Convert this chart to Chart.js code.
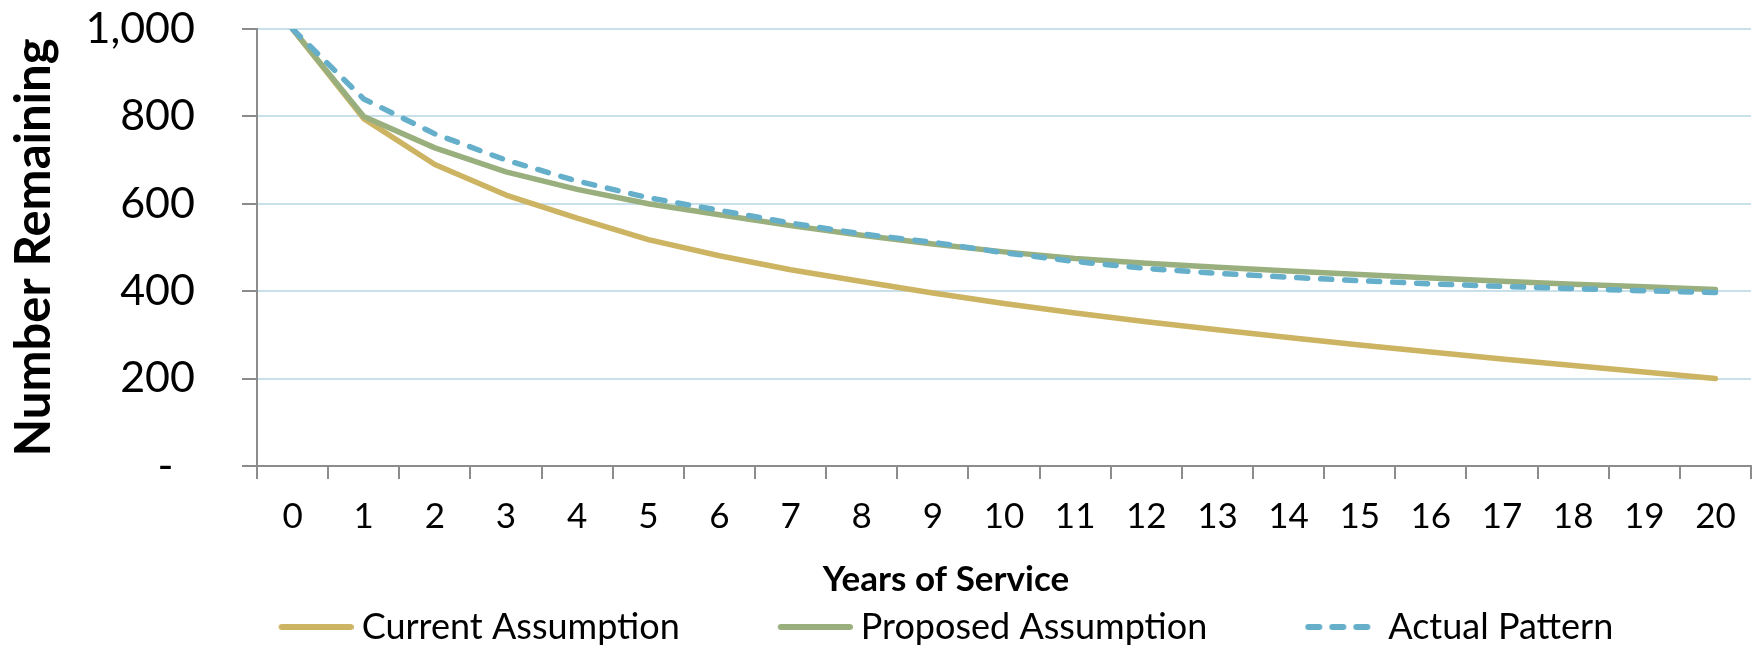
<!DOCTYPE html>
<html>
<head>
<meta charset="utf-8">
<title>Number Remaining by Years of Service</title>
<script src="https://cdn.jsdelivr.net/npm/chart.js@4.4.1/dist/chart.umd.min.js"></script>
<style>
  html, body { margin: 0; padding: 0; background: #ffffff; }
  #wrap { width: 1760px; height: 650px; position: relative; }
</style>
</head>
<body>
<div id="wrap"><canvas id="chart"></canvas></div>
<script>
// Years of service (categories)
const years = ['0', '1', '2', '3', '4', '5', '6', '7', '8', '9', '10',
               '11', '12', '13', '14', '15', '16', '17', '18', '19', '20'];

// Number remaining out of 1,000 starting members
const currentAssumption  = [1000, 795, 690, 620, 567, 518, 481, 449, 422, 396, 372,
                            350, 330, 312, 294, 277, 261, 245, 230, 215, 200];
const proposedAssumption = [1000, 800, 728, 673, 633, 600, 575, 550, 528, 508, 490,
                            475, 464, 455, 446, 438, 430, 423, 416, 410, 404];
const actualPattern      = [1000, 840, 760, 700, 652, 614, 585, 556, 531, 512, 488,
                            468, 452, 441, 432, 424, 417, 411, 406, 401, 397];

// Value-axis tick values
const yTickValues = [0, 200, 400, 600, 800, 1000];

const seriesNames = ['Current Assumption', 'Proposed Assumption', 'Actual Pattern'];

const GOLD  = '#CCB462';
const GREEN = '#9AAF7E';
const BLUE  = '#66AFCB';
const GRID  = '#C7E0EA';
const AXIS  = '#8C8C8C';
const DASH  = [11, 13];
const LINE_W = 5.5;

// Legend swatch: a short stroke at the right end of a wider transparent strip
const LEGEND_PAD = 3;
const SWATCH_BOX = 163 - LEGEND_PAD;
function legendSwatch(color, dash) {
  const c = document.createElement('canvas');
  c.width = SWATCH_BOX + 20;
  c.height = 10;
  const g = c.getContext('2d');
  g.strokeStyle = color;
  g.lineWidth = 6;
  g.lineCap = 'round';
  g.setLineDash(dash);
  g.beginPath();
  g.moveTo(c.width - 75 + 3, 5);
  g.lineTo(c.width - 3, 5);
  g.stroke();
  return c;
}

Chart.defaults.font.family = "Lato, 'Open Sans', sans-serif";
Chart.defaults.color = '#000000';

// Keeps the bottom title and legend centred under the plot like the source layout
const bottomBlocks = {
  id: 'bottomBlocks',
  afterLayout(chart) {
    const t = chart.titleBlock;
    if (t) { t.left = 141; t.right = 1751; t.width = t.right - t.left; }
    const lg = chart.legend;
    if (lg) {
      lg.left = 1957 - SWATCH_BOX - 1760;
      lg.right = 1760;
      lg.width = lg.right - lg.left;
      const lab = lg.options.labels;
      const size = lab.font.size;
      const dy = 627 - (lg.top + lab.padding + size / 2);
      lg.top += dy;
      lg.bottom += dy;
    }
  }
};

new Chart(document.getElementById('chart'), {
  type: 'line',
  data: {
    labels: years,
    datasets: [
      {
        label: seriesNames[0],
        data: currentAssumption,
        borderColor: GOLD,
        backgroundColor: GOLD,
        borderWidth: LINE_W,
        pointStyle: legendSwatch(GOLD, []),
        order: 3
      },
      {
        label: seriesNames[1],
        data: proposedAssumption,
        borderColor: GREEN,
        backgroundColor: GREEN,
        borderWidth: LINE_W,
        pointStyle: legendSwatch(GREEN, []),
        order: 2
      },
      {
        label: seriesNames[2],
        data: actualPattern,
        borderColor: BLUE,
        backgroundColor: BLUE,
        borderWidth: LINE_W,
        borderDash: DASH,
        pointStyle: legendSwatch(BLUE, DASH),
        order: 1
      }
    ]
  },
  options: {
    responsive: true,
    maintainAspectRatio: false,
    animation: false,
    events: [],
    layout: { padding: { top: 29, right: 9, bottom: 0, left: 0 } },
    elements: {
      line: { tension: 0, borderCapStyle: 'round', borderJoinStyle: 'round', fill: false },
      point: { radius: 0, hoverRadius: 0 }
    },
    scales: {
      x: {
        type: 'category',
        offset: true,
        ticks: { font: { size: 35 }, color: '#000', padding: 17, maxRotation: 0, autoSkip: false },
        grid: { offset: true, drawOnChartArea: false, tickColor: AXIS, tickLength: 13, tickWidth: 2, lineWidth: 2 },
        border: { color: AXIS, width: 2 }
      },
      y: {
        min: 0,
        max: 1000,
        afterBuildTicks(scale) { scale.ticks = yTickValues.map(v => ({ value: v })); },
        afterFit(scale) {
          scale.width = 257;
          scale.paddingTop = 0;
          scale.paddingBottom = 0;
        },
        ticks: {
          font: { size: 43 },
          color: '#000',
          padding: 47,
          callback: v => (v === 0 ? '-\u2002' : v.toLocaleString('en-US'))
        },
        grid: {
          color: ctx => (ctx.tick && ctx.tick.value === 0 ? 'rgba(0,0,0,0)' : GRID),
          lineWidth: 2,
          tickColor: AXIS,
          tickLength: 15,
          tickWidth: 2
        },
        border: { color: AXIS, width: 2 },
        title: {
          display: true,
          text: 'Number Remaining',
          font: { size: 49, weight: 'bold' },
          color: '#000',
          padding: { top: 5, bottom: 0 }
        }
      }
    },
    plugins: {
      tooltip: { enabled: false },
      title: {
        display: true,
        position: 'bottom',
        text: 'Years of Service',
        font: { size: 35, weight: 'bold' },
        color: '#000',
        padding: { top: 4, bottom: 0 },
        weight: 500
      },
      legend: {
        display: true,
        position: 'bottom',
        labels: {
          usePointStyle: true,
          pointStyleWidth: SWATCH_BOX,
          padding: LEGEND_PAD,
          font: { size: 36 },
          color: '#000',
          sort: (a, b) => a.datasetIndex - b.datasetIndex
        }
      }
    }
  },
  plugins: [bottomBlocks]
});
</script>
</body>
</html>
